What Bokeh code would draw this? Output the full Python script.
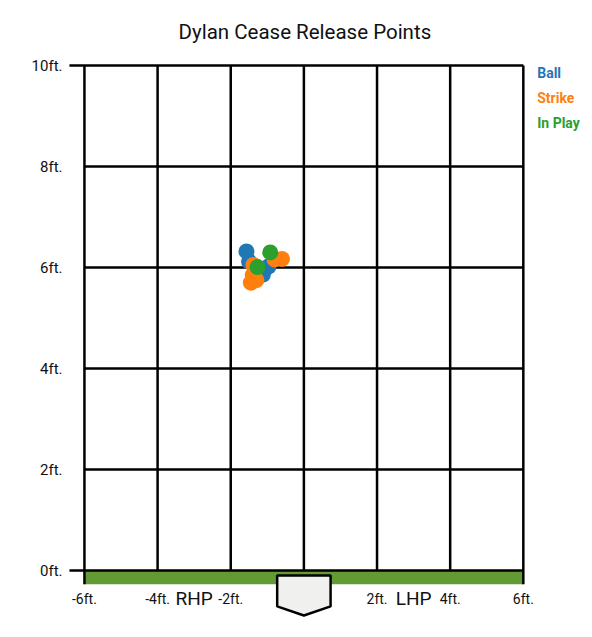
from bokeh.plotting import figure
from bokeh.models import Range1d, FixedTicker, ColumnDataSource, LabelSet
from bokeh.core.properties import value
from bokeh.embed import file_html
from bokeh.resources import INLINE

# ---- data ----
ball_x = [-1.57, -1.50, -0.97, -1.12, -1.35]
ball_y = [6.32, 6.12, 6.02, 5.86, 5.80]
strike_x = [-0.60, -0.80, -1.45, -1.40, -1.38, -1.30]
strike_y = [6.17, 6.16, 5.70, 5.85, 6.05, 5.75]
inplay_x = [-0.92, -1.27]
inplay_y = [6.30, 6.01]

series_names = ["Ball", "Strike", "In Play"]
series_colors = ["#1f77b4", "#ff7f0e", "#2ca02c"]

y_ticks = [0, 2, 4, 6, 8, 10]
y_labels = ["0ft.", "2ft.", "4ft.", "6ft.", "8ft.", "10ft."]
x_grid = [-6, -4, -2, 0, 2, 4, 6]
x_ticks = [-6, -4, -2, 2, 4, 6]
x_labels = ["-6ft.", "-4ft.", "-2ft.", "2ft.", "4ft.", "6ft."]
side_x = [-3, 3]
side_labels = ["RHP", "LHP"]

plate_x = [-0.73, 0.73, 0.73, 0.0, -0.73]
plate_y = [-0.10, -0.10, -0.71, -0.89, -0.71]
ground_depth = 0.27

FONT = "Roboto"

p = figure(frame_width=523, frame_height=558,
           x_range=Range1d(-6.6, 7.7), y_range=Range1d(-0.95, 10.1),
           min_border_left=62, min_border_right=4, min_border_top=60,
           min_border_bottom=8, output_backend="svg", toolbar_location=None,
           title="Dylan Cease Release Points")
p.outline_line_color = None
p.grid.visible = False
p.xaxis.visible = False

p.title.align = "left"
p.title.offset = 116
p.title.text_font = FONT
p.title.text_font_size = "20.5px"
p.title.text_font_style = "normal"
p.title.text_color = "#111111"
p.title.standoff = 33

yax = p.yaxis[0]
yax.ticker = FixedTicker(ticks=y_ticks)
yax.major_label_overrides = {t: l for t, l in zip(y_ticks, y_labels)}
yax.axis_line_color = None
yax.major_tick_out = 0
yax.major_tick_in = 0
yax.major_tick_line_color = None
yax.minor_tick_line_color = None
yax.major_label_standoff = 0
yax.major_label_text_font = FONT
yax.major_label_text_font_size = "15px"
yax.major_label_text_color = "#111111"

# ground band
p.quad(left=[x_grid[0]], right=[x_grid[-1]], bottom=[-ground_depth], top=[0],
       fill_color="#639a33", line_color=None)

# grid lines
ymin, ymax = y_ticks[0], y_ticks[-1]
v_y0 = [(-ground_depth if (x == x_grid[0] or x == x_grid[-1]) else ymin) for x in x_grid]
p.segment(x0=x_grid, y0=v_y0, x1=x_grid, y1=[ymax] * len(x_grid),
          line_color="black", line_width=2.5)
h_x0 = [(-6.41 if (y == ymin or y == ymax) else x_grid[0]) for y in y_ticks]
p.segment(x0=h_x0, y0=y_ticks, x1=[x_grid[-1]] * len(y_ticks), y1=y_ticks,
          line_color="black", line_width=2.5)

# home plate
p.patch(plate_x, plate_y, fill_color="#f0f0ee", line_color="black", line_width=2.5)

# points
p.scatter(ball_x, ball_y, size=16, color=series_colors[0], line_color=None)
p.scatter(strike_x, strike_y, size=16, color=series_colors[1], line_color=None)
p.scatter(inplay_x, inplay_y, size=16, color=series_colors[2], line_color=None)

# x tick labels
xl_src = ColumnDataSource(dict(x=x_ticks, y=[-0.56] * len(x_ticks), t=x_labels))
p.add_layout(LabelSet(x="x", y="y", text="t", source=xl_src, text_align="center",
                      text_baseline="middle", text_font=value(FONT),
                      text_font_size=value("14px"), text_color="#111111"))
sl_src = ColumnDataSource(dict(x=side_x, y=[-0.56] * len(side_x), t=side_labels))
p.add_layout(LabelSet(x="x", y="y", text="t", source=sl_src, text_align="center",
                      text_baseline="middle", text_font=value(FONT),
                      text_font_size=value("19px"), text_color="#111111"))

# legend
lg_y = [9.86 - 0.5 * i for i in range(len(series_names))]
lg_src = ColumnDataSource(dict(x=[6.38] * len(series_names), y=lg_y,
                               t=series_names, c=series_colors))
p.add_layout(LabelSet(x="x", y="y", text="t", text_color="c", source=lg_src,
                      text_align="left", text_baseline="middle", text_font=value(FONT),
                      text_font_size=value("14px"), text_font_style="bold"))

open("out.html", "w").write(file_html(p, INLINE))
